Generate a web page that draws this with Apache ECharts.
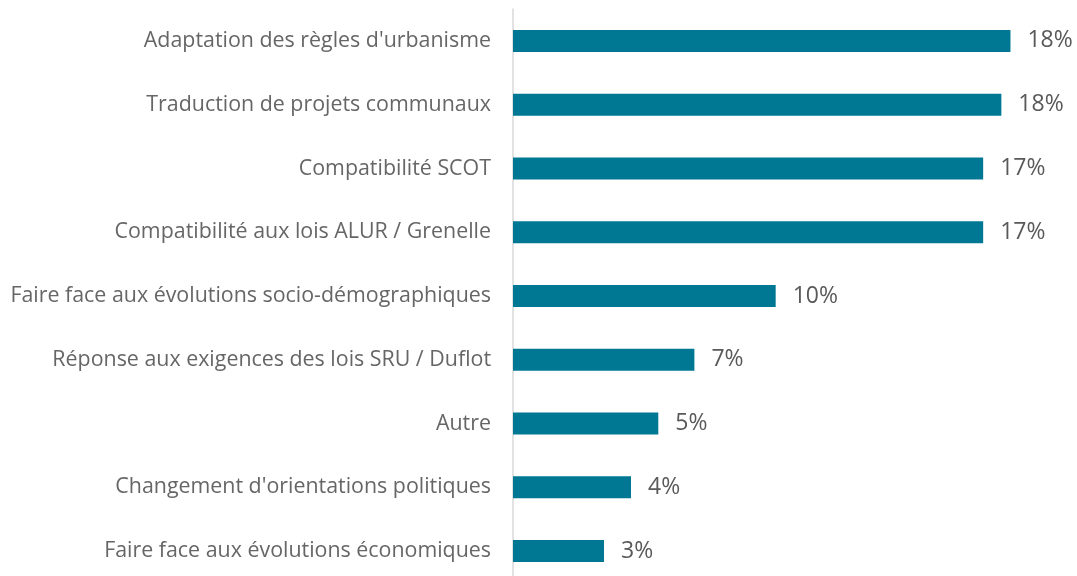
<!DOCTYPE html>
<html>
<head>
<meta charset="utf-8">
<script src="https://cdn.jsdelivr.net/npm/echarts@6/dist/echarts.min.js"></script>
<style>html,body{margin:0;padding:0;background:#fff;}#c{width:1077px;height:576px;}</style>
</head>
<body>
<div id="c"></div>
<script>
var categories = [
  "Adaptation des règles d'urbanisme",
  "Traduction de projets communaux",
  "Compatibilité SCOT",
  "Compatibilité aux lois ALUR / Grenelle",
  "Faire face aux évolutions socio-démographiques",
  "Réponse aux exigences des lois SRU / Duflot",
  "Autre",
  "Changement d'orientations politiques",
  "Faire face aux évolutions économiques"
];
var values = [16.4, 16.1, 15.5, 15.5, 8.66, 5.98, 4.79, 3.89, 3.0];
var valueLabels = ["18%", "18%", "17%", "17%", "10%", "7%", "5%", "4%", "3%"];

var chart = echarts.init(document.getElementById('c'), null, {renderer: 'canvas'});
chart.setOption({
  animation: false,
  backgroundColor: '#ffffff',
  grid: {left: 513, right: 18, top: 9, height: 574, containLabel: false, outerBoundsMode: 'none'},
  xAxis: {
    type: 'value', min: 0, max: 18,
    show: false
  },
  yAxis: {
    type: 'category', data: categories, inverse: true,
    axisLine: {show: true, lineStyle: {color: '#d9d9d9', width: 1.5}},
    axisTick: {show: false},
    axisLabel: {color: '#666666', fontSize: 21.4, fontFamily: 'Open Sans', margin: 22}
  },
  series: [{
    type: 'bar',
    data: values,
    barWidth: 22,
    itemStyle: {color: '#007893'},
    label: {
      show: true, position: 'right', distance: 17,
      color: '#595959', fontSize: 23, fontFamily: 'Open Sans',
      formatter: function (p) { return valueLabels[p.dataIndex]; }
    }
  }]
});
</script>
</body>
</html>
